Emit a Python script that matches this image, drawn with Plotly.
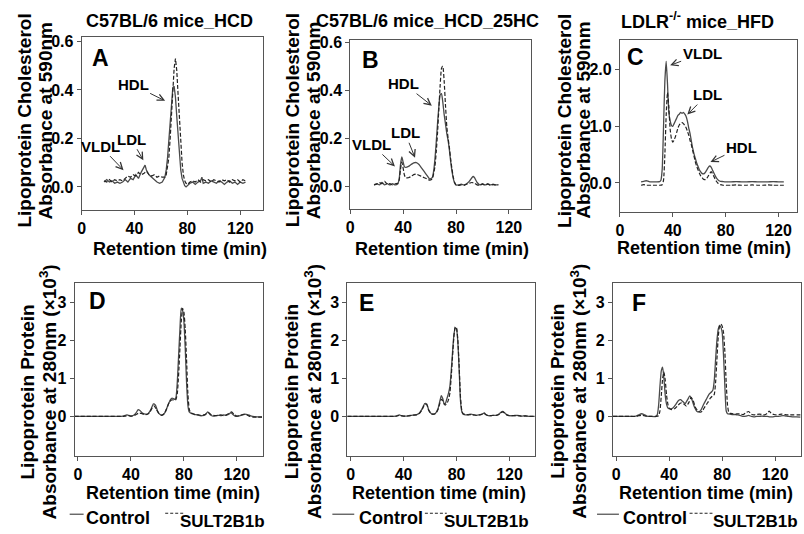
import plotly.graph_objects as go

W, H = 804, 534

# ---------------- DATA ----------------
# Panel A: C57BL/6 mice_HCD, cholesterol (A590)
a_ctrl_x = [17,19,21,23,25,27,29,31,33,35,37,39,41,43,45,47,48,49,51,53,55,57,59,61,63,64,65,66,67,68,69,70,71,72,73,74,75,76,77,78,79,80,82,84,86,88,90,91,92,94,96,98,100,102,104,106,108,110,112,114,116,118,120,122,124]
a_ctrl_y = [0.02,0.03,0.02,0.025,0.015,0.02,0.015,0.02,0.03,0.02,0.035,0.03,0.05,0.035,0.06,0.085,0.09,0.07,0.05,0.04,0.03,0.02,0.015,0.02,0.04,0.07,0.12,0.2,0.28,0.36,0.41,0.415,0.37,0.29,0.2,0.13,0.07,0.035,0.015,0.005,0.0,0.005,0.015,0.02,0.01,0.02,0.025,0.04,0.015,0.02,0.015,0.025,0.02,0.015,0.025,0.02,0.01,0.02,0.025,0.015,0.02,0.01,0.02,0.015,0.02]
a_sult_x = [17,19,21,23,25,27,29,31,33,35,37,39,41,43,45,47,49,51,53,55,57,59,61,63,64,65,66,67,68,69,70,71,72,73,74,75,76,77,78,79,80,82,84,86,88,90,92,94,96,98,100,102,104,106,108,110,112,114,116,118,120,122,124]
a_sult_y = [0.025,0.02,0.03,0.02,0.03,0.025,0.03,0.025,0.035,0.045,0.04,0.05,0.045,0.06,0.05,0.055,0.065,0.05,0.045,0.05,0.04,0.045,0.04,0.04,0.05,0.08,0.12,0.2,0.3,0.4,0.49,0.53,0.48,0.38,0.27,0.17,0.1,0.05,0.025,0.015,0.01,0.02,0.025,0.02,0.03,0.02,0.03,0.025,0.03,0.02,0.03,0.025,0.02,0.03,0.025,0.03,0.02,0.03,0.025,0.03,0.02,0.03,0.025]

# Panel B: C57BL/6 mice_HCD_25HC
b_ctrl_x = [18,20,22,24,26,28,30,32,34,36,37,38,39,40,41,42,44,46,48,50,52,54,56,58,60,62,63,64,65,66,67,68,69,70,71,72,73,74,75,76,77,78,79,80,82,84,86,88,90,92,93,94,96,98,100,102,104,106,108,110,112]
b_ctrl_y = [0.005,0.01,0.005,0.015,0.005,0.01,0.005,0.01,0.005,0.01,0.03,0.09,0.122,0.10,0.08,0.078,0.082,0.09,0.097,0.098,0.09,0.075,0.06,0.045,0.03,0.035,0.06,0.11,0.18,0.26,0.33,0.38,0.385,0.35,0.3,0.26,0.22,0.19,0.15,0.1,0.06,0.03,0.012,0.005,0.005,0.008,0.005,0.01,0.02,0.035,0.04,0.035,0.015,0.005,0.01,0.005,0.01,0.005,0.008,0.005,0.005]
b_sult_x = [18,20,22,24,26,28,30,32,34,36,37,38,39,40,41,42,44,46,48,50,52,54,56,58,60,62,64,65,66,67,68,69,70,71,72,73,74,75,76,77,78,79,80,82,84,86,88,90,92,94,96,98,100,102,104,106,108,110,112]
b_sult_y = [0.005,0.008,0.015,0.01,0.02,0.008,0.01,0.005,0.01,0.012,0.025,0.07,0.10,0.075,0.045,0.035,0.035,0.04,0.048,0.05,0.045,0.04,0.035,0.03,0.025,0.03,0.08,0.14,0.22,0.32,0.42,0.49,0.50,0.44,0.34,0.25,0.2,0.16,0.11,0.07,0.035,0.015,0.005,0.003,0.005,0.003,0.008,0.012,0.015,0.012,0.005,0.003,0.008,0.004,0.008,0.004,0.006,0.005,0.006]

# Panel C: LDLR-/- mice_HFD
c_ctrl_x = [16,18,20,22,24,26,28,30,31,32,33,34,35,36,37,38,39,40,41,42,43,44,45,46,47,48,49,50,51,52,53,54,55,56,57,58,59,60,61,62,63,64,65,66,67,68,69,70,71,72,73,74,75,76,78,80,84,88,92,96,100,104,108,112,116,120,124]
c_ctrl_y = [0.02,0.03,0.04,0.025,0.02,0.02,0.02,0.025,0.05,0.25,1.0,1.8,2.15,1.75,1.25,1.1,1.02,1.0,1.05,1.1,1.15,1.2,1.22,1.25,1.23,1.25,1.22,1.18,1.1,0.98,0.88,0.75,0.62,0.52,0.44,0.36,0.3,0.24,0.2,0.17,0.16,0.17,0.2,0.24,0.28,0.3,0.28,0.23,0.18,0.13,0.09,0.06,0.04,0.03,0.025,0.02,0.02,0.025,0.02,0.02,0.025,0.02,0.02,0.02,0.025,0.02,0.02]
c_sult_x = [16,18,20,22,24,26,28,30,32,33,34,35,36,37,38,39,40,41,42,43,44,45,46,47,48,49,50,51,52,53,54,55,56,57,58,59,60,61,62,63,64,65,66,67,68,69,70,71,72,73,74,75,76,78,80,84,88,92,96,100,104,108,112,116,120,124]
c_sult_y = [-0.04,-0.03,-0.04,-0.04,-0.04,-0.04,-0.04,-0.04,-0.03,0.05,0.5,1.2,1.6,1.35,0.95,0.78,0.72,0.76,0.82,0.9,0.98,1.03,1.06,1.07,1.05,1.02,0.98,0.92,0.85,0.76,0.68,0.58,0.48,0.38,0.3,0.24,0.18,0.13,0.1,0.07,0.06,0.06,0.09,0.13,0.17,0.2,0.17,0.12,0.07,0.03,0.0,-0.02,-0.03,-0.04,-0.04,-0.04,-0.035,-0.04,-0.04,-0.035,-0.04,-0.04,-0.035,-0.04,-0.04,-0.04]

# Panel D: protein (A280, x10^3)
d_ctrl_x = [-2.5,10,20,30,34,36,37,38,40,42,44,45.5,47,49,51,53,55,57,58.5,60,62,64,66,68,70,71,72,73,74,75,76,77,78,79,80,81,82,83,84,86,88,90,92,94,96,98,100,102,104,106,108,110,112,114,115.5,117,119,121,123,125.5,128,130,132,135,139]
d_ctrl_y = [0,0,0,0,0.01,0.03,0.04,0.03,0.01,0.03,0.1,0.18,0.15,0.08,0.06,0.07,0.18,0.33,0.3,0.15,0.05,0.04,0.12,0.3,0.45,0.48,0.47,0.45,0.5,0.9,1.6,2.3,2.85,2.8,2.5,1.8,0.9,0.3,0.12,0.07,0.05,0.04,0.02,0.02,0.04,0.12,0.04,0.01,0.02,0.03,0.02,0.04,0.03,0.06,0.1,0.05,0.0,0.01,0.03,0.06,0.05,0.02,0.0,-0.01,-0.01]
d_sult_x = [-2.5,10,20,30,34,36,38,40,42,44,46,48,50,52,54,56,57.5,59,61,63,65,67,69,71,73,74,75,76,77,78,79,80,81,82,83,84,85,87,89,91,93,95,97,98.5,100,102,104,106,108,110,112,114,116,118,120,122,124,126,128,130,132,135,139]
d_sult_y = [0,0,0,0,0.0,0.01,0.02,0.01,0.02,0.05,0.09,0.08,0.05,0.05,0.1,0.22,0.28,0.2,0.08,0.03,0.07,0.2,0.38,0.44,0.42,0.45,0.6,1.1,1.8,2.5,2.85,2.75,2.3,1.5,0.6,0.2,0.1,0.07,0.05,0.04,0.03,0.04,0.07,0.1,0.06,0.03,0.02,0.03,0.04,0.02,0.04,0.08,0.12,0.05,0.01,0.02,0.04,0.05,0.03,0.0,-0.02,-0.02,-0.02]

# Panel E
e_x = [-2.5,10,20,30,34,36,37,38,40,42,44,46,48,50,52,54,56,57.5,59,61,63,64.5,66,67.5,68.5,69.5,70.5,71.5,73,74,75,76,77,78,79,80,81,82,83,84,85,87,89,91,93,95,97,99,101,102,104,106,108,110,112,113.5,115,116.5,118,120,123,126,129,132,135,139]
e_ctrl_y = [0,0,0,0,0.01,0.03,0.04,0.02,0.01,0.01,0.02,0.03,0.04,0.05,0.09,0.2,0.34,0.33,0.17,0.07,0.06,0.1,0.2,0.42,0.55,0.48,0.35,0.34,0.5,0.62,0.8,1.2,1.7,2.15,2.33,2.3,1.95,1.2,0.4,0.12,0.06,0.04,0.05,0.06,0.04,0.03,0.04,0.06,0.09,0.05,0.02,0.02,0.03,0.03,0.06,0.11,0.13,0.09,0.04,0.02,0.02,0.03,0.01,0.02,0.0,0.0]
e_sult_y = [0,0,0,0,0.0,0.02,0.03,0.02,0.01,0.01,0.015,0.025,0.035,0.045,0.08,0.18,0.32,0.31,0.16,0.07,0.06,0.09,0.18,0.36,0.45,0.42,0.33,0.3,0.36,0.45,0.62,1.05,1.6,2.1,2.36,2.33,2.0,1.3,0.5,0.15,0.07,0.05,0.04,0.05,0.04,0.03,0.04,0.05,0.08,0.05,0.02,0.02,0.03,0.03,0.05,0.1,0.12,0.08,0.04,0.02,0.02,0.02,0.01,0.01,0.0,0.0]

# Panel F
f_ctrl_x = [-2.5,10,15,17,19,21,23,26,30,31,32,33,34,35,36,37,38,39,41,43,45,47,48.5,50,52,54,55.5,57,59,61,62.5,64,66,68,70,72,73,74,75,76,77,78,79,80,81,82,83,84,86,88,90,92,94,96,98,100,102,104,106,108,110,112,114,116,118,120,122,124,126,128,130,133,136,139]
f_ctrl_y = [0,0,0.01,0.04,0.07,0.05,0.01,0.0,0.0,0.05,0.3,0.8,1.2,1.3,1.0,0.55,0.32,0.22,0.2,0.23,0.32,0.42,0.44,0.4,0.34,0.45,0.54,0.45,0.25,0.13,0.12,0.17,0.32,0.45,0.58,0.65,0.7,0.95,1.5,2.0,2.3,2.4,2.35,2.2,1.6,0.8,0.15,0.07,0.06,0.05,0.05,0.04,0.02,0.0,0.01,0.03,0.0,-0.01,0.0,0.0,0.01,0.0,0.0,-0.01,-0.01,0.0,0.0,0.01,0.02,0.01,0.0,-0.01,-0.01,-0.02]
f_sult_x = [-2.5,10,15,17,19,21,23,26,30,32,33,34,35,36,37,38,39,40,42,44,46,48,49.5,51,53,55,56.5,58,60,62,63.5,65,67,69,71,73,74,75,76,77,78,79,80,81,82,83,84,85,86,88,90,92,94,96,98,100,102,104,106,108,110,112,114,115.5,117,119,121,123,125,127,129,131,134,137,139]
f_sult_y = [0,0,0.0,0.02,0.03,0.02,0.0,0.0,0.0,0.02,0.15,0.55,1.0,1.17,0.95,0.55,0.32,0.22,0.18,0.2,0.27,0.34,0.36,0.33,0.27,0.38,0.5,0.42,0.22,0.13,0.11,0.14,0.26,0.36,0.48,0.55,0.58,0.9,1.5,2.1,2.38,2.43,2.38,2.2,1.7,0.9,0.3,0.1,0.08,0.07,0.06,0.07,0.06,0.05,0.1,0.13,0.06,0.04,0.05,0.06,0.05,0.04,0.08,0.14,0.08,0.05,0.04,0.05,0.06,0.05,0.04,0.04,0.04,0.04,0.04]

panel_titles = ["C57BL/6 mice_HCD", "C57BL/6 mice_HCD_25HC", "LDLR<sup>-/-</sup> mice_HFD"]
panel_letters = ["A", "B", "C", "D", "E", "F"]
x_ticks = [0, 40, 80, 120]
top_y_ticks_ab = [0.0, 0.2, 0.4, 0.6]
top_y_ticks_c = [0.0, 1.0, 2.0]
bottom_y_ticks = [0, 1, 2, 3]
x_title = "Retention time (min)"
y_title_top = ["Lipoprotein Cholesterol", "Absorbance at 590nm"]
y_title_bottom = ["Lipoprotein Protein", "Absorbance at 280nm (×10<sup>3</sup>)"]
series_names = ["Control", "SULT2B1b"]

# ---------------- LAYOUT HELPERS ----------------
FONT = "Liberation Sans, Arial, sans-serif"
def px(x): return x / W
def py(y): return 1 - y / H

def bf(size, color="black"):
    return dict(family=FONT, size=size, color=color, weight="bold")

# pixel boxes: left, right, top, bottom
boxes = [
    (78, 260, 31, 206),
    (348, 530, 34, 205),
    (619, 797, 34, 208),
    (71, 260, 280, 455),
    (345, 534, 280, 455),
    (612, 801, 280, 455),
]
yranges = [(-0.094, 0.62), (-0.094, 0.61), (-0.507, 2.535), (-1.04, 3.52), (-1.04, 3.52), (-1.04, 3.52)]
xranges = [(0, 137), (0, 137), (0, 134), (-2.5, 139.5), (-2.5, 139.5), (-2.5, 139.5)]
yticks = [top_y_ticks_ab, top_y_ticks_ab, top_y_ticks_c, bottom_y_ticks, bottom_y_ticks, bottom_y_ticks]
yfmt = [".1f", ".1f", ".1f", "d", "d", "d"]

data = [
    (a_ctrl_x, a_ctrl_y, a_sult_x, a_sult_y, "linear"),
    (b_ctrl_x, b_ctrl_y, b_sult_x, b_sult_y, "spline"),
    (c_ctrl_x, c_ctrl_y, c_sult_x, c_sult_y, "spline"),
    (d_ctrl_x, d_ctrl_y, d_sult_x, d_sult_y, "spline"),
    (e_x, e_ctrl_y, e_x, e_sult_y, "spline"),
    (f_ctrl_x, f_ctrl_y, f_sult_x, f_sult_y, "spline"),
]

fig = go.Figure()
AX = "#555555"
layout = dict(
    width=W, height=H, margin=dict(l=0, r=0, t=0, b=0),
    paper_bgcolor="white", plot_bgcolor="white", showlegend=False,
)
for i, (l, r, t, b) in enumerate(boxes):
    n = "" if i == 0 else str(i + 1)
    layout["xaxis" + n] = dict(
        domain=[px(l), px(r)], range=list(xranges[i]), anchor="y" + n,
        showline=True, mirror=True, linecolor=AX, linewidth=1,
        ticks="outside", ticklen=4, tickcolor=AX, showgrid=False, zeroline=False,
        tickvals=x_ticks, tickfont=bf(16),
    )
    layout["yaxis" + n] = dict(
        domain=[py(b), py(t)], range=list(yranges[i]), anchor="x" + n,
        showline=True, mirror=True, linecolor=AX, linewidth=1,
        ticks="outside", ticklen=4, tickcolor=AX, showgrid=False, zeroline=False,
        tickvals=yticks[i], tickformat=yfmt[i], tickfont=bf(16),
    )
    cx, cy, sx, sy, shape = data[i]
    sline = dict(color="#4a4a4a", width=1.3)
    dline = dict(color="#222222", width=1.2, dash="4px,2px")
    if shape == "spline":
        sline["smoothing"] = 0.5
        dline["smoothing"] = 0.5
    fig.add_trace(go.Scatter(x=cx, y=cy, mode="lines", name=series_names[0],
                             xaxis="x" + n, yaxis="y" + n, line_shape=shape, line=sline))
    fig.add_trace(go.Scatter(x=sx, y=sy, mode="lines", name=series_names[1],
                             xaxis="x" + n, yaxis="y" + n, line_shape=shape, line=dline))

fig.update_layout(**layout)

ann = []
def text_ann(txt, x, y, size, angle=0):
    ann.append(dict(text=txt, x=px(x), y=py(y), xref="paper", yref="paper", textangle=angle,
                    showarrow=False, font=bf(size), xanchor="center", yanchor="middle"))

# panel titles
for txt, (x, y) in zip(panel_titles, [(166, 15), (426, 15), (697, 15)]):
    text_ann(txt, x, y, 18)
# panel letters
for txt, (x, y) in zip(panel_letters, [(97, 53), (368, 55), (635, 52), (94, 298), (364, 300), (638, 300)]):
    text_ann(txt, x, y, 23)
# x-axis titles
for (x, y) in [(177, 246), (440, 246), (703, 245), (170, 493), (437, 493), (706, 493)]:
    text_ann(x_title, x, y, 18)
# y-axis titles (two lines each)
for (x1, x2, y) in [(21, 42, 116), (290, 311, 116), (563, 583, 116)]:
    text_ann(y_title_top[0], x1, y, 19, -90)
    text_ann(y_title_top[1], x2, y, 19, -90)
for (x1, x2, y) in [(24, 44, 390), (289, 310, 390), (556, 577, 390)]:
    text_ann(y_title_bottom[0], x1, y, 19, -90)
    text_ann(y_title_bottom[1], x2, y, 19, -90)

# peak labels with arrows: (axis suffix, label, tip x, tip y, ax, ay)
peak_labels = [
    ("", "HDL", 63.2, 0.355, -32, -16),
    ("", "VLDL", 31.7, 0.069, -23, -24),
    ("", "LDL", 46.7, 0.11, -12, -21),
    ("2", "HDL", 61.7, 0.335, -28, -22),
    ("2", "VLDL", 33.8, 0.082, -23, -22),
    ("2", "LDL", 49.0, 0.118, -10, -25),
    ("3", "VLDL", 38.0, 2.08, 32, -12),
    ("3", "LDL", 51.0, 1.21, 20, -20),
    ("3", "HDL", 68.5, 0.37, 31, -15),
]
for n, txt, x, y, ax, ay in peak_labels:
    ann.append(dict(text=txt, x=x, y=y, xref="x" + n, yref="y" + n, ax=ax, ay=ay,
                    showarrow=True, arrowhead=5, arrowsize=1.3, arrowwidth=1, arrowcolor="#333333",
                    font=bf(15)))

# legends below bottom panels
shapes = []
legend_pos = [
    ((66, 80), 115, (162, 182), 220),
    ((330, 352), 389, (423, 445), 485),
    ((596, 618), 654, (689, 712), 755),
]
for (s0, s1), ctx, (d0, d1), stx in legend_pos:
    shapes.append(dict(type="line", xref="paper", yref="paper", x0=px(s0), x1=px(s1), y0=py(514), y1=py(514),
                       line=dict(color="#4a4a4a", width=1.2)))
    shapes.append(dict(type="line", xref="paper", yref="paper", x0=px(d0), x1=px(d1), y0=py(513), y1=py(513),
                       line=dict(color="#222222", width=1.2, dash="3px,2px")))
    text_ann(series_names[0], ctx, 518, 18)
    text_ann(series_names[1], stx, 521, 17)

fig.update_layout(annotations=ann, shapes=shapes)
fig.write_html("out.html", config={"displayModeBar": False},
               post_script="document.body.style.margin='0px';document.body.style.overflow='hidden';")
